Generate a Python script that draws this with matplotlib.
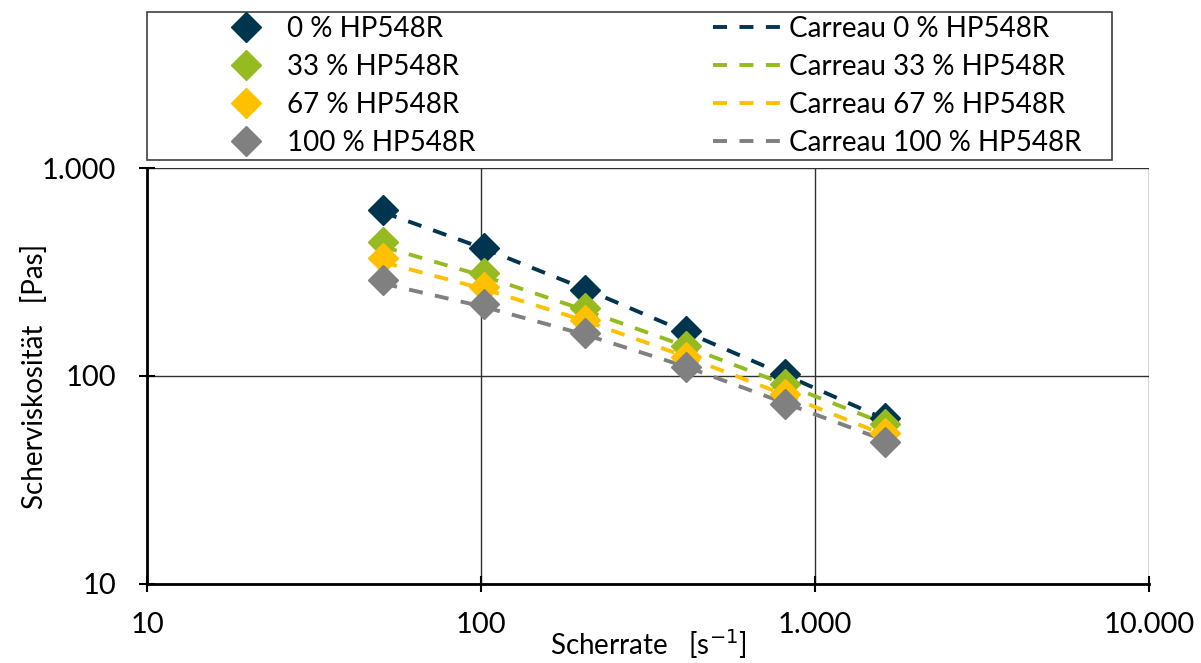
import matplotlib.pyplot as plt
from matplotlib.patches import Rectangle

plt.rcParams['font.family'] = ['Lato', 'DejaVu Sans']

# Scherrate [1/s]
rate = [51, 102, 205, 410, 815, 1620]

labels = ['0 % HP548R', '33 % HP548R', '67 % HP548R', '100 % HP548R']
colors = ['#003550', '#95bb20', '#ffc000', '#808080']

# gemessene Scherviskosität [Pas]
eta_0 = [628, 412, 259, 164, 102, 63]
eta_33 = [441, 313, 212, 139, 92, 59]
eta_67 = [369, 268, 186, 123, 82, 53]
eta_100 = [290, 222, 161, 110, 73, 48]

# Carreau-Fit
fit_0 = [612, 410, 262, 163, 101, 62]
fit_33 = [418, 302, 207, 139, 91, 59]
fit_67 = [352, 262, 184, 124, 81, 52]
fit_100 = [278, 215, 158, 111, 74, 49]

measured = [eta_0, eta_33, eta_67, eta_100]
fits = [fit_0, fit_33, fit_67, fit_100]

fig = plt.figure(figsize=(12.01, 6.63), dpi=100)
ax = fig.add_axes([0.1224, 0.1192, 0.8343, 0.6274])

marker_handles = []
line_handles = []
for lab, col, fit in zip(labels, colors, fits):
    l, = ax.plot(rate, fit, color=col, lw=2.8, linestyle=(0, (3.6, 3.2)),
                 label='Carreau ' + lab, zorder=3)
    line_handles.append(l)
for lab, col, eta in zip(labels, colors, measured):
    m, = ax.plot(rate, eta, 'D', color=col, markersize=15.5, label=lab, zorder=4)
    marker_handles.append(m)

ax.set_xscale('log')
ax.set_yscale('log')
ax.set_xlim(10, 10000)
ax.set_ylim(10, 1000)
ax.set_xticks([10, 100, 1000, 10000])
ax.set_xticklabels(['10', '100', '1.000', '10.000'])
ax.set_yticks([10, 100, 1000])
ax.set_yticklabels(['10', '100', '1.000'])
ax.minorticks_off()
ax.tick_params(axis='both', direction='inout', length=12, width=1.5,
               labelsize=21, colors='black')
ax.tick_params(axis='x', pad=14)
ax.tick_params(axis='y', pad=16)
ax.grid(True, color='#303030', lw=1.0)
for s in ['left', 'bottom']:
    ax.spines[s].set_linewidth(2)
for s in ['top', 'right']:
    ax.spines[s].set_visible(False)

ax.set_xlabel('Scherrate   [s$^{-1}$]', fontsize=20, labelpad=-8)
ax.set_ylabel('Scherviskosität   [Pas]', fontsize=20, labelpad=-4)

fig.add_artist(Rectangle((147 / 1201, 1 - 160 / 663), 965 / 1201, 148 / 663,
                         transform=fig.transFigure, fill=False,
                         edgecolor='#404040', lw=1.2))

fig.legend(handles=marker_handles, loc='upper left',
           bbox_to_anchor=(211 / 1201, 1 - 16 / 663), frameon=False,
           fontsize=20, handlelength=2.5, handletextpad=0.25,
           labelspacing=0.43, borderpad=0, borderaxespad=0)
fig.legend(handles=line_handles, loc='upper left',
           bbox_to_anchor=(713 / 1201, 1 - 16 / 663), frameon=False,
           fontsize=20, handlelength=2.5, handletextpad=0.25,
           labelspacing=0.43, borderpad=0, borderaxespad=0)

fig.savefig('out.png', dpi=100)
